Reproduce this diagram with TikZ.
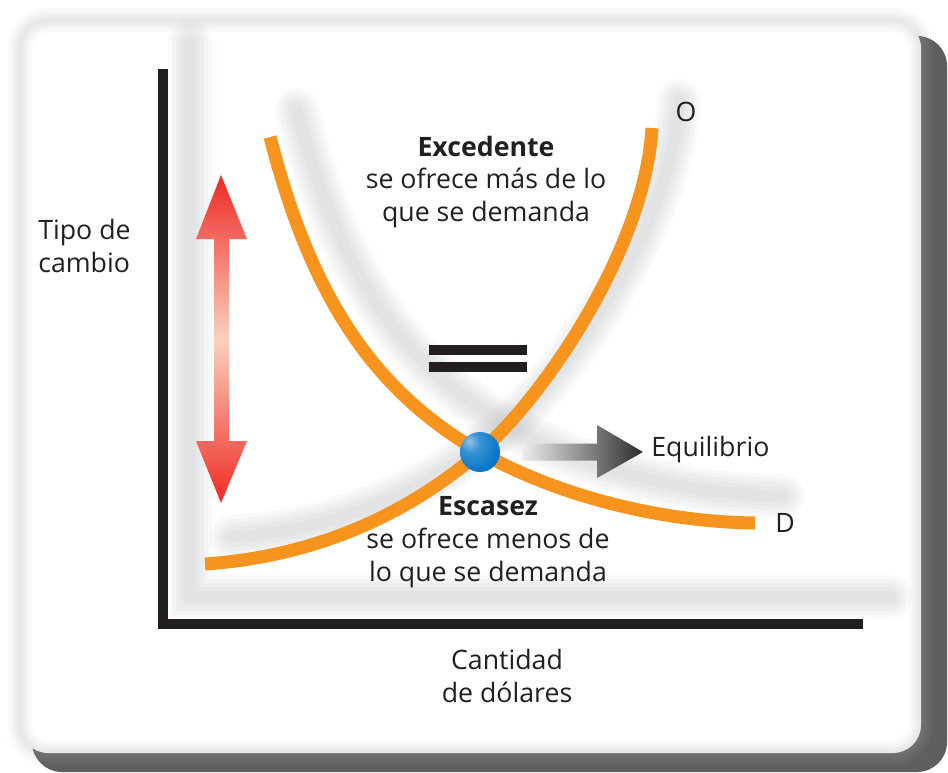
\documentclass[tikz,border=0pt]{standalone}
\usepackage{fontspec}
\setmainfont{Open Sans}
\usetikzlibrary{positioning,calc}
\definecolor{supply}{HTML}{F7941D}
\definecolor{inkdark}{HTML}{231F20}
\definecolor{arrowred}{HTML}{EE2A24}
\definecolor{arrowpale}{HTML}{FAD0BE}
\definecolor{ballblue}{HTML}{0A78C8}
\definecolor{hazegray}{HTML}{A9ACB0}
\definecolor{cardshadow}{HTML}{5E5F61}

\pgfdeclareradialshading{glossball}{\pgfqpoint{-14bp}{14bp}}{%
  color(0bp)=(white!55!ballblue); color(12bp)=(ballblue!80!white);
  color(30bp)=(ballblue); color(55bp)=(ballblue!80!black); color(75bp)=(ballblue!80!black)}

% curve paths (pixel units, y downwards)
\newcommand{\demandpath}{plot[domain=270:480, samples=30] ({\x}, {648.4-669.39/((\x-139.1)/100)})
  .. controls (555,495) and (660,522) .. (755,523)}
\newcommand{\supplypath}{(205,564) .. controls (320,556) and (410,512) .. (480,452)
  .. controls (542,399) and (645,250) .. (652,128)}

\begin{document}
\begin{tikzpicture}[x=0.02cm, y=-0.02cm,
  every node/.style={font=\fontsize{15.2}{18.6}\selectfont, text=inkdark, inner sep=0pt},
  curve/.style={supply, line width=7.4pt},
  axis/.style={inkdark, line width=6.2pt, line join=miter},
  haze/.style={hazegray, line cap=round, opacity=0.07},
  lbl/.style={align=center},
]
\useasboundingbox (0,0) rectangle (948,772);

% Card with drop shadow
\fill[white] (0,0) rectangle (948,772);
\fill[cardshadow, rounded corners=17pt] (32,36) rectangle (947,772);
\fill[white, rounded corners=16pt] (20,20) rectangle (921,753);
\foreach \w in {24,17,11,5}
  \draw[haze, line width=\w*0.567pt, rounded corners=16pt] (20,20) rectangle (921,753);

% Soft shadows behind axes and curves
\foreach \w in {44,36,28,20,12} {
  \draw[haze, line width=\w*0.567pt, shift={(27,-27)}] (163,69) -- (163,624) -- (863,624);
  \draw[haze, line width=\w*0.567pt, shift={(27,-27)}] \demandpath;
  \draw[haze, line width=\w*0.567pt, shift={(27,-27)}] \supplypath;
}

% Axes
\draw[axis] (163,69) -- (163,624) -- (863,624);

% Demand (D) and supply (O)
\draw[curve] \demandpath;
\draw[curve] \supplypath;

% Exchange-rate arrow
\shade[top color=arrowred, bottom color=arrowred, middle color=arrowpale]
  (221,175) -- (247,239) -- (229,239) -- (229,441) -- (247,441) -- (221,503)
  -- (196,441) -- (214,441) -- (214,239) -- (196,239) -- cycle;

% Equal sign
\fill[inkdark] (429,345) rectangle (527,355);
\fill[inkdark] (429,362) rectangle (527,372);

% Labels
\node[anchor=west] (equil) at (651,450) {Equilibrio};
\node (lblO) at (686,112) {O};
\node (lblD) at (785,523) {D};
\node[lbl] (excess) at (486,182) {\textbf{Excedente}\\se ofrece más de lo\\que se demanda};
\node[lbl] (short) at (488,542) {\textbf{Escasez}\\se ofrece menos de\\lo que se demanda};
\node[align=left, anchor=west] (ylab) at (38,246) {Tipo de\\cambio};
\node[lbl] (xlab) at (507,676) {Cantidad\\de dólares};

% Equilibrium point and pointer
\node[circle, minimum size=0.8cm, shading=glossball] (eq) at (480,452) {};
\coordinate (a0) at ($(eq.east)+(22,0)$);
\coordinate (a1) at ($(equil.west)+(-8,2)$);
\shade[left color=white!93!black, right color=inkdark!95]
  ($(a0)+(0,-8.5)$) -- ($(a1)+(-46,-8.5)$) -- ($(a1)+(-46,-27)$) -- (a1)
  -- ($(a1)+(-46,26)$) -- ($(a1)+(-46,8.5)$) -- ($(a0)+(0,8.5)$) -- cycle;

\end{tikzpicture}
\end{document}
